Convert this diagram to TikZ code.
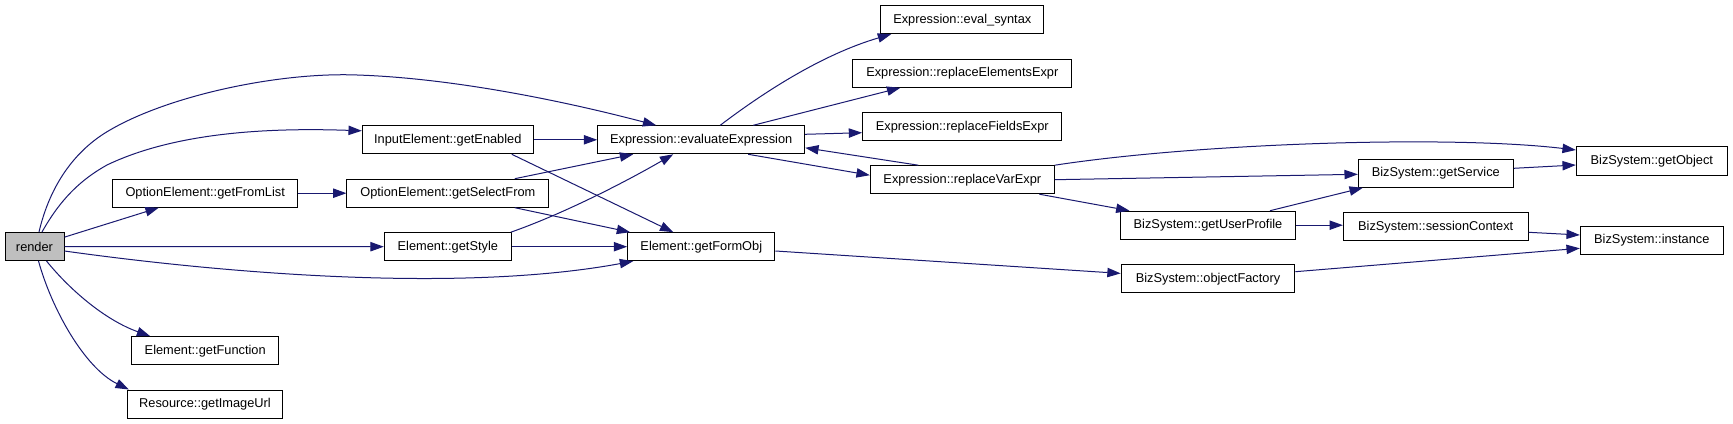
\documentclass[tikz,border=0pt]{standalone}
\usepackage{fontspec}
\setmainfont{Liberation Sans}
\usetikzlibrary{arrows.meta,calc}
\definecolor{edgeblue}{HTML}{191970}
\definecolor{rendergray}{HTML}{BFBFBF}
\begin{document}
\begin{tikzpicture}[x=0.75pt,y=-0.75pt,
  fn/.style={draw=black,line width=0.75pt,fill=white,inner sep=0pt,minimum height=21pt,
    font=\fontsize{9.6}{11}\selectfont},
  call/.style={draw=edgeblue,line width=0.75pt,-{Triangle[length=10pt,width=7pt]}}]
\fill[white] (0,0) rectangle (1733,424);
\useasboundingbox (0,0) rectangle (1733,424);
% nodes
\node[fn,fill=rendergray,minimum width=44.25pt] (render) at (34.5,246.5) {render};
\node[fn,minimum width=138.75pt] (fromlist) at (205.2,193.2) {OptionElement::getFromList};
\node[fn,minimum width=128.25pt] (enabled) at (447.8,139.8) {InputElement::getEnabled};
\node[fn,minimum width=110.25pt] (function) at (205.2,350.7) {Element::getFunction};
\node[fn,minimum width=116.5pt] (imageurl) at (205,404) {Resource::getImageUrl};
\node[fn,minimum width=155.25pt] (evalexpr) at (701.2,139.8) {Expression::evaluateExpression};
\node[fn,minimum width=151.25pt] (selectfrom) at (447.8,193.2) {OptionElement::getSelectFrom};
\node[fn,minimum width=95.25pt] (style) at (447.8,246.7) {Element::getStyle};
\node[fn,minimum width=110.5pt] (formobj) at (701.3,246.7) {Element::getFormObj};
\node[fn,minimum width=122.5pt] (evalsyntax) at (962.3,19.7) {Expression::eval\_syntax};
\node[fn,minimum width=164.5pt] (elements) at (962.3,73.3) {Expression::replaceElementsExpr};
\node[fn,minimum width=149.5pt] (fields) at (962.3,126.7) {Expression::replaceFieldsExpr};
\node[fn,minimum width=138pt] (varexpr) at (962.3,179.7) {Expression::replaceVarExpr};
\node[fn,minimum width=131pt] (userprofile) at (1208,225.2) {BizSystem::getUserProfile};
\node[fn,minimum width=130.25pt] (objfactory) at (1208,278.7) {BizSystem::objectFactory};
\node[fn,minimum width=113.25pt] (getobject) at (1651.8,161) {BizSystem::getObject};
\node[fn,minimum width=116.25pt] (getservice) at (1435.8,173.3) {BizSystem::getService};
\node[fn,minimum width=138.5pt] (session) at (1435.7,226.7) {BizSystem::sessionContext};
\node[fn,minimum width=107.25pt] (instance) at (1651.8,240) {BizSystem::instance};
% edges from render
\draw[call] ($(render.north)+(4.5,0)$) .. controls (50,185) and (75,150) .. (110,130)
  .. controls (170,95) and (280,72) .. (357,75)
  .. controls (450,78) and (560,100) .. ($(evalexpr.north)+(-45,0)$);
\draw[call] ($(render.north)+(7.5,0)$) .. controls (60,200) and (80,180) .. (107,165)
  .. controls (180,130) and (280,128) .. ($(enabled.west)+(0,-9)$);
\draw[call] (render) -- (fromlist);
\draw[call] (render.east) -- (style.west);
\draw[call] ($(render.east)+(0,4.5)$) .. controls (200,270) and (450,295) .. ($(formobj.south west)+(6,0)$);
\draw[call] ($(render.south)+(12,0)$) .. controls (70,290) and (105,320) .. ($(function.north)+(-55,0)$);
\draw[call] ($(render.south)+(4,0)$) .. controls (52,310) and (85,368) .. ($(imageurl.north west)+(2,0)$);
% second level
\draw[call] (enabled.east) -- (evalexpr.west);
\draw[call] ($(enabled.south)+(64,0)$) -- ($(formobj.north)+(-28,0)$);
\draw[call] (fromlist.east) -- (selectfrom.west);
\draw[call] ($(selectfrom.north)+(67,0)$) -- ($(evalexpr.south)+(-68,0)$);
\draw[call] ($(selectfrom.south)+(67,0)$) -- ($(formobj.north west)+(3,0)$);
\draw[call] ($(style.north east)+(-1,0)$) .. controls (560,215) and (620,185) .. ($(evalexpr.south)+(-28,0)$);
\draw[call] (style.east) -- (formobj.west);
% evaluateExpression
\draw[call] ($(evalexpr.north)+(19,0)$) .. controls (760,95) and (820,55) .. ($(evalsyntax.south west)+(11,0)$);
\draw[call] ($(evalexpr.north)+(52,0)$) -- ($(elements.south)+(-62,0)$);
\draw[call] ($(evalexpr.east)+(0,-5.5)$) -- ($(fields.west)+(0,6)$);
\draw[call] ($(evalexpr.south)+(47,0)$) -- ($(varexpr.west)+(0,-4.5)$);
\draw[call] ($(varexpr.north)+(-44,0)$) -- ($(evalexpr.east)+(0,8)$);
% replaceVarExpr
\draw[call] (varexpr.north east) .. controls (1200,143) and (1450,135) .. ($(getobject.west)+(0,-11)$);
\draw[call] (varexpr.east) -- ($(getservice.west)+(0,1)$);
\draw[call] ($(varexpr.south)+(77,0)$) -- ($(userprofile.north west)+(9.3,0)$);
% formobj
\draw[call] ($(formobj.east)+(0,4.3)$) -- ($(objfactory.west)+(0,-5.3)$);
% BizSystem
\draw[call] ($(userprofile.north)+(62,0)$) -- ($(getservice.south west)+(5,0)$);
\draw[call] (userprofile.east) -- (userprofile.east -| session.west);
\draw[call] ($(getservice.east)+(0,-5)$) -- ($(getobject.west)+(0,4)$);
\draw[call] ($(session.east)+(0,5.6)$) -- ($(instance.west)+(0,-5)$);
\draw[call] ($(objfactory.east)+(0,-7)$) -- ($(instance.west)+(0,8.3)$);
\end{tikzpicture}
\end{document}
